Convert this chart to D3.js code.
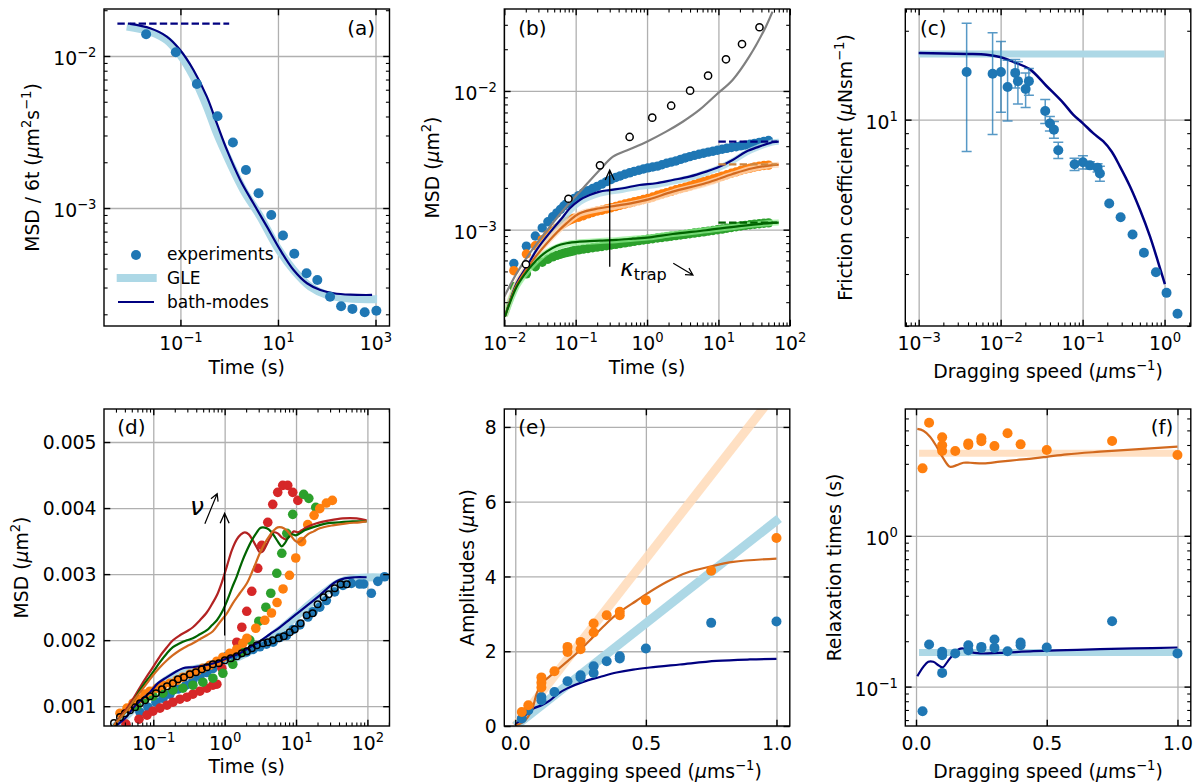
<!DOCTYPE html>
<html>
<head>
<meta charset="utf-8">
<script src="https://cdn.jsdelivr.net/npm/d3@7"></script>
<style>
  body { margin: 0; background: #fff; }
  svg text { font-family: "DejaVu Sans", sans-serif; fill: #000; }
</style>
</head>
<body>
<svg id="fig" width="1198" height="783"></svg>
<script>
// ---------- panel (a): MSD / 6t ----------
var aExpT = [0.0198, 0.0804, 0.2173, 0.5754, 1.191, 2.203, 4.0, 7.28, 12.68, 21.6, 38.6, 64.1, 117, 197, 336, 600, 1042];
var aExpV = [0.0139, 0.01057, 0.00654, 0.00401, 0.0027, 0.00178, 0.00125, 0.0009, 0.00066, 0.0005, 0.000372, 0.000336, 0.000261, 0.000226, 0.000217, 0.000206, 0.000211];
var aBathT = [0.00927, 0.024, 0.0525, 0.0986, 0.185, 0.348, 0.558, 0.897, 1.683, 3.155, 5.94, 11.1, 20.9, 39.4, 74, 139, 305, 851];
var aBathV = [0.01626, 0.0152, 0.0134, 0.01094, 0.00809, 0.0054, 0.0036, 0.00241, 0.00153, 0.00107, 0.000754, 0.00053, 0.000391, 0.00032, 0.000289, 0.000275, 0.000269, 0.000268];
var aGleT = [0.00794, 0.024, 0.0525, 0.0986, 0.185, 0.348, 0.558, 1.05, 1.968, 4.335, 9.53, 20.9, 46, 101, 261, 1079];
var aGleV = [0.0156, 0.01445, 0.01274, 0.01016, 0.00731, 0.00464, 0.0031, 0.00197, 0.00131, 0.000877, 0.000556, 0.000391, 0.000303, 0.000268, 0.000255, 0.000251];
var aPlateauT = [0.0051, 1.0];
var aPlateauV = [0.0163, 0.0163];

// ---------- panel (b): MSD for three trap stiffnesses ----------
var bT = [0.0136, 0.0204, 0.0272, 0.034, 0.0408, 0.0476, 0.0544, 0.0612, 0.068, 0.0748, 0.0816, 0.0884, 0.0952,
  0.11, 0.128, 0.149, 0.173, 0.2, 0.233, 0.27, 0.314, 0.365, 0.42, 0.49, 0.57, 0.66, 0.77, 0.89,
  1.03, 1.2, 1.4, 1.62, 1.88, 2.18, 2.54, 2.95, 3.42, 3.97, 4.6, 5.35, 6.2, 7.2, 8.4, 9.7,
  11.3, 13.1, 15.2, 17.7, 20.5, 23.8, 27.7, 32.1, 37.3, 43.3, 50.3];
var bBlue = [0.00057, 0.00076, 0.0009, 0.00103, 0.00114, 0.00124, 0.00132, 0.0014, 0.00148, 0.00154, 0.00159, 0.00164, 0.00168,
  0.00176, 0.00184, 0.00191, 0.00198, 0.00205, 0.00213, 0.00222, 0.0023, 0.00238, 0.00244, 0.00251, 0.00257, 0.00263, 0.00268, 0.00274,
  0.00279, 0.00283, 0.00287, 0.00294, 0.00301, 0.00307, 0.00313, 0.00321, 0.00329, 0.00336, 0.00343, 0.0035, 0.00356, 0.00362, 0.00368, 0.00374,
  0.0038, 0.00386, 0.00391, 0.00396, 0.00402, 0.00407, 0.00413, 0.00419, 0.00426, 0.00433, 0.00439];
var bOrange = [0.000506, 0.000668, 0.000765, 0.000848, 0.00092, 0.00098, 0.00103, 0.00107, 0.00111, 0.00114, 0.00117, 0.00119, 0.00121,
  0.00123, 0.00126, 0.0013, 0.00133, 0.00136, 0.00138, 0.00141, 0.00144, 0.00147, 0.0015, 0.00153, 0.00156, 0.00159, 0.00162, 0.00165,
  0.00168, 0.00172, 0.00177, 0.00181, 0.00185, 0.00189, 0.00194, 0.00198, 0.00202, 0.00207, 0.00212, 0.00217, 0.00222, 0.00227, 0.00232, 0.00237,
  0.00243, 0.00249, 0.00255, 0.00261, 0.00267, 0.00273, 0.00278, 0.00283, 0.00287, 0.0029, 0.00292];
var bGreen = [0.000388, 0.00048, 0.00054, 0.000582, 0.000612, 0.000636, 0.000652, 0.000665, 0.000676, 0.000685, 0.000692, 0.000699, 0.000705,
  0.000715, 0.000724, 0.000732, 0.00074, 0.000748, 0.000757, 0.000766, 0.000775, 0.000784, 0.000793, 0.000803, 0.000813, 0.000823, 0.000833, 0.000843,
  0.000852, 0.000861, 0.00087, 0.000879, 0.000888, 0.000897, 0.000906, 0.000915, 0.000925, 0.000935, 0.000945, 0.000955, 0.000965, 0.000976, 0.000987, 0.000998,
  0.00101, 0.001023, 0.001036, 0.001049, 0.001062, 0.001074, 0.001085, 0.001095, 0.001104, 0.001113, 0.00112];
var bNavyT = [0.0102, 0.0149, 0.0206, 0.0284, 0.0391, 0.051, 0.0667, 0.0828, 0.114, 0.157, 0.217, 0.299, 0.459, 0.785, 1.34, 2.29, 3.92, 6.71, 10.3, 15.8, 24.3, 37.2, 57.2, 70];
var bNavyV = [0.000236, 0.000411, 0.000541, 0.000714, 0.000891, 0.001052, 0.00124, 0.001426, 0.001637, 0.001778, 0.00188, 0.00193, 0.00199, 0.0021, 0.00216, 0.00228, 0.00241, 0.00262, 0.00284, 0.00318, 0.00365, 0.00397, 0.00427, 0.00432];
var bGleBlueT = [0.0102, 0.015, 0.021, 0.029, 0.04, 0.052, 0.068, 0.085, 0.115, 0.16, 0.22, 0.3, 0.46, 0.79, 1.34, 2.3, 3.9, 6.7, 10.3, 15.8, 24.3, 37, 57, 70];
var bGleBlueV = [0.00024, 0.0004, 0.00053, 0.0007, 0.00087, 0.00103, 0.0012, 0.00138, 0.00158, 0.00172, 0.00182, 0.00188, 0.00194, 0.00204, 0.0021, 0.00222, 0.00236, 0.00257, 0.00279, 0.00312, 0.00358, 0.00394, 0.00425, 0.0043];
var bChocT = [0.0102, 0.0149, 0.0254, 0.0434, 0.0744, 0.114, 0.217, 0.371, 0.634, 1.084, 2.29, 6.71, 15.8, 30.1, 57.2, 70];
var bChocV = [0.000236, 0.0004, 0.000605, 0.000843, 0.001111, 0.001313, 0.001426, 0.00149, 0.00156, 0.00166, 0.00188, 0.00217, 0.00252, 0.00277, 0.00292, 0.00294];
var bPeachT = [0.0102, 0.015, 0.025, 0.043, 0.074, 0.114, 0.22, 0.37, 0.63, 1.08, 2.3, 6.7, 15.8, 30, 57, 70];
var bPeachV = [0.00024, 0.00041, 0.00061, 0.00085, 0.00111, 0.0013, 0.00141, 0.00147, 0.00154, 0.00164, 0.00186, 0.00215, 0.0025, 0.00276, 0.00292, 0.00294];
var bDkGreenT = [0.0102, 0.0149, 0.0206, 0.0284, 0.0391, 0.054, 0.0744, 0.114, 0.217, 0.371, 0.634, 1.084, 2.29, 6.71, 19.6, 57.2, 70];
var bDkGreenV = [0.000236, 0.000388, 0.000498, 0.000605, 0.000694, 0.000763, 0.000798, 0.000819, 0.000833, 0.000843, 0.000861, 0.000881, 0.00093, 0.00099, 0.00106, 0.00112, 0.001125];
var bLtGreenT = [0.0102, 0.015, 0.021, 0.029, 0.04, 0.055, 0.075, 0.115, 0.22, 0.37, 0.63, 1.08, 2.3, 6.7, 19.6, 57, 70];
var bLtGreenV = [0.00024, 0.00039, 0.0005, 0.0006, 0.00069, 0.00075, 0.00079, 0.00081, 0.00083, 0.00084, 0.00086, 0.00088, 0.00093, 0.00099, 0.00106, 0.00112, 0.001125];
var bGrayT = [0.01, 0.0149, 0.0254, 0.0434, 0.0743, 0.1268, 0.217, 0.333, 0.57, 0.993, 1.85, 3.16, 5.41, 9.25, 15.8, 27, 46.2, 57.2];
var bGrayV = [0.000329, 0.000485, 0.000734, 0.00105, 0.00147, 0.00199, 0.00269, 0.00336, 0.0038, 0.00431, 0.00509, 0.006, 0.0073, 0.00936, 0.012, 0.01767, 0.0291, 0.0373];
var bCircT = [0.0201, 0.0792, 0.219, 0.57, 1.183, 2.178, 4.009, 7.16, 12.76, 21.4, 37.6];
var bCircV = [0.000563, 0.00167, 0.00291, 0.00466, 0.00642, 0.00783, 0.01005, 0.0129, 0.01692, 0.0218, 0.0288];
var bPlateauT = [10, 66];
var bPlateauNavy = [0.00431, 0.00431];
var bPlateauOrange = [0.00296, 0.00296];
var bPlateauGreen = [0.001123, 0.001123];

// ---------- panel (c): friction coefficient ----------
var cSpeed = [0.00385, 0.00798, 0.01009, 0.01216, 0.01507, 0.01626, 0.02018, 0.02213, 0.035, 0.0399, 0.0447, 0.0505, 0.0798, 0.1009, 0.1227, 0.1524, 0.1626, 0.2113, 0.291, 0.407, 0.56, 0.785, 1.057, 1.439];
var cFric = [14.5, 14.3, 14.5, 12.9, 14.4, 13.5, 12.7, 13.5, 10.7, 9.7, 9.25, 7.88, 7.06, 7.17, 7.0, 6.87, 6.57, 5.2, 4.67, 4.08, 3.54, 3.04, 2.59, 2.2];
var cErr = [6.7, 5.4, 3.9, 3.0, 1.6, 2.2, 1.7, 1.4, 1.0, 0.55, 0.6, 0.5, 0.34, 0.37, 0.2, 0.22, 0.38, 0, 0, 0, 0, 0, 0, 0];
var cBathSpeed = [0.001, 0.00385, 0.00675, 0.0098, 0.01426, 0.0228, 0.0363, 0.058, 0.0767, 0.1016, 0.1346, 0.178, 0.226, 0.285, 0.378, 0.5, 0.662, 0.838, 1.01];
var cBathFric = [16.8, 16.7, 16.6, 16.3, 15.7, 14.8, 13.0, 11.4, 10.4, 9.7, 9.0, 8.45, 7.8, 6.95, 5.95, 4.96, 4.03, 3.28, 2.77];
var cGleSpeed = [0.001, 1.0];
var cGleFric = [16.7, 16.7];

// ---------- panel (d): MSD while dragging ----------
var dOrangeT = [0.0342, 0.0429, 0.052, 0.0611, 0.0765, 0.0899, 0.1127, 0.1367, 0.1714, 0.2145, 0.26, 0.326, 0.409, 0.495, 0.621, 0.778, 0.944, 1.18, 1.48, 1.8, 2.05, 2.73, 3.65, 4.53, 5.42, 6.58, 8.09, 9.91, 12.0, 14.6, 17.9, 21.5, 26.6, 32.3];
var dOrangeV = [0.000894, 0.00097, 0.001045, 0.001106, 0.001182, 0.001227, 0.001272, 0.001318, 0.001348, 0.001393, 0.001439, 0.001484, 0.00153, 0.001575, 0.00162, 0.001681, 0.001741, 0.001802, 0.001862, 0.001953, 0.002029, 0.00218, 0.002301, 0.002411, 0.002569, 0.002775, 0.002982, 0.003244, 0.003492, 0.003749, 0.00389, 0.003991, 0.004076, 0.004116];
var dGreenT = [0.0592, 0.0765, 0.0991, 0.1367, 0.1886, 0.26, 0.359, 0.495, 0.684, 0.944, 1.3, 1.74, 2.25, 3.01, 3.78, 4.43, 5.38, 6.32, 7.43, 8.99, 12.8, 15.1, 18.9];
var dGreenV = [0.001, 0.001106, 0.001151, 0.001197, 0.001242, 0.001272, 0.001318, 0.001363, 0.001424, 0.001499, 0.001635, 0.001817, 0.002, 0.002286, 0.002498, 0.00271, 0.003012, 0.003315, 0.003617, 0.003905, 0.004207, 0.004147, 0.004011];
var dRedT = [0.0415, 0.0631, 0.0817, 0.0991, 0.124, 0.1556, 0.1886, 0.236, 0.296, 0.359, 0.45, 0.564, 0.684, 0.778, 0.914, 1.48, 1.74, 2.04, 2.4, 2.91, 3.31, 4.02, 4.72, 5.54, 6.51, 7.65, 8.99, 10.6];
var dRedV = [0.000728, 0.000803, 0.000864, 0.000924, 0.00097, 0.001015, 0.00106, 0.001106, 0.001136, 0.001182, 0.001227, 0.001272, 0.001318, 0.001333, 0.001575, 0.001968, 0.002195, 0.002437, 0.00274, 0.003088, 0.003436, 0.003784, 0.004056, 0.004238, 0.004344, 0.004344, 0.004238, 0.004116];
var dBlueT = [0.0652, 0.0843, 0.109, 0.137, 0.171, 0.222, 0.287, 0.359, 0.45, 0.564, 0.684, 0.857, 1.06, 1.32, 1.63, 2.02, 2.5, 3.11, 3.85, 4.77, 5.91, 7.34, 9.08, 11.3, 14.7, 17.3, 21.5, 26.6, 34.8, 45.4, 59.6, 77.8, 88.5, 113.5, 140, 174];
var dBlueV = [0.000909, 0.000985, 0.00106, 0.00112, 0.00118, 0.00126, 0.00132, 0.00139, 0.00145, 0.00151, 0.00157, 0.00167, 0.00175, 0.00177, 0.0018, 0.00182, 0.00186, 0.0019, 0.00194, 0.00197, 0.00204, 0.00207, 0.00216, 0.00223, 0.00235, 0.00243, 0.0025, 0.0026, 0.00273, 0.00283, 0.00286, 0.00285, 0.00285, 0.00271, 0.00289, 0.00296];
var dCircT = [0.0282, 0.0342, 0.0402, 0.0472, 0.0555, 0.0652, 0.0766, 0.0899, 0.109, 0.1324, 0.1556, 0.1886, 0.2215, 0.2686, 0.326, 0.395, 0.479, 0.564, 0.684, 0.83, 1.007, 1.22, 1.48, 1.74, 2.05, 2.4, 2.82, 3.43, 4.03, 4.72, 5.73, 6.73, 8.17, 9.59, 11.6, 14.1, 17.1, 20.1, 24.4, 28.7, 34.8, 42.2, 51.3];
var dCircV = [0.000743, 0.000834, 0.000894, 0.00094, 0.000985, 0.001045, 0.001091, 0.001151, 0.001197, 0.001257, 0.001303, 0.001348, 0.001408, 0.001439, 0.001484, 0.001514, 0.00156, 0.00159, 0.001635, 0.00165, 0.001696, 0.001726, 0.001756, 0.001802, 0.001832, 0.001877, 0.001923, 0.001953, 0.001968, 0.001998, 0.002029, 0.002059, 0.00212, 0.002165, 0.002256, 0.002377, 0.002407, 0.002543, 0.002649, 0.002694, 0.002785, 0.002846, 0.002846];
var dNavyT = [0.0282, 0.0321, 0.0429, 0.052, 0.0695, 0.0899, 0.1164, 0.1556, 0.201, 0.26, 0.3475, 0.45, 0.621, 0.857, 1.18, 1.63, 2.25, 3.11, 4.29, 5.92, 8.17, 11.3, 15.6, 21.5, 29.6, 37.1, 48.0, 66.2, 97.5];
var dNavyV = [0.000682, 0.000728, 0.000849, 0.00097, 0.001106, 0.001212, 0.001348, 0.001439, 0.001514, 0.001575, 0.00159, 0.001605, 0.001635, 0.001681, 0.001741, 0.001802, 0.001893, 0.001983, 0.002089, 0.002195, 0.002316, 0.002437, 0.002558, 0.002679, 0.002815, 0.002891, 0.002936, 0.002952, 0.002952];
var dGleT = [0.028, 0.04, 0.06, 0.09, 0.13, 0.2, 0.3, 0.45, 0.7, 1.0, 1.6, 2.5, 4, 6, 10, 15, 25, 40, 60, 100, 150];
var dGleV = [0.00068, 0.00083, 0.00102, 0.00119, 0.00134, 0.00147, 0.00154, 0.00158, 0.00162, 0.00167, 0.00175, 0.00186, 0.00201, 0.00216, 0.00236, 0.00253, 0.00272, 0.00287, 0.00293, 0.00295, 0.00295];
var dRedLineT = [0.0282, 0.0342, 0.0429, 0.0537, 0.0652, 0.0817, 0.0991, 0.124, 0.1556, 0.1886, 0.236, 0.296, 0.359, 0.45, 0.564, 0.662, 0.778, 0.914, 1.074, 1.26, 1.48, 1.69, 1.92, 2.18, 2.48, 2.82, 3.11, 3.42, 3.77, 4.29, 4.88, 5.54, 6.31, 7.18, 8.17, 9.29, 10.6, 12.0, 14.1, 19.5, 29.6, 45.1, 70.6, 97.5];
var dRedLineV = [0.000713, 0.000834, 0.00097, 0.001136, 0.001287, 0.001454, 0.00159, 0.001756, 0.001893, 0.001998, 0.002074, 0.002135, 0.002195, 0.002301, 0.002422, 0.002543, 0.002679, 0.002876, 0.003118, 0.00336, 0.003526, 0.003602, 0.003632, 0.003602, 0.003511, 0.003405, 0.00333, 0.003345, 0.003421, 0.003542, 0.003632, 0.003617, 0.003557, 0.003526, 0.003572, 0.003647, 0.003632, 0.003663, 0.003708, 0.003769, 0.003814, 0.003844, 0.003844, 0.003814];
var dGreenLineT = [0.0282, 0.0342, 0.0429, 0.0537, 0.0652, 0.0817, 0.0991, 0.124, 0.1556, 0.1886, 0.236, 0.296, 0.359, 0.45, 0.564, 0.662, 0.778, 0.914, 1.074, 1.26, 1.48, 1.74, 2.05, 2.4, 2.82, 3.11, 3.42, 3.89, 4.43, 4.88, 5.54, 6.31, 6.95, 7.65, 8.71, 9.91, 11.3, 13.2, 17.1, 26.9, 40.8, 62.1, 97.5];
var dGreenLineV = [0.000713, 0.000818, 0.00094, 0.001091, 0.001242, 0.001393, 0.001514, 0.001666, 0.001802, 0.001893, 0.001953, 0.001998, 0.002029, 0.002089, 0.00215, 0.002225, 0.002301, 0.002422, 0.002588, 0.002785, 0.002967, 0.003178, 0.00336, 0.003511, 0.003632, 0.003693, 0.003708, 0.003693, 0.003647, 0.003587, 0.003496, 0.003421, 0.003466, 0.003542, 0.003602, 0.003587, 0.003617, 0.003663, 0.003708, 0.003769, 0.003784, 0.003799, 0.003799];
var dOrangeLineT = [0.0282, 0.0342, 0.0429, 0.0537, 0.0652, 0.0817, 0.0991, 0.124, 0.1556, 0.1886, 0.236, 0.296, 0.359, 0.45, 0.564, 0.684, 0.857, 1.074, 1.3, 1.63, 2.05, 2.48, 3.11, 3.65, 4.29, 4.88, 5.54, 6.31, 7.41, 8.43, 9.59, 10.6, 11.6, 12.8, 14.6, 17.7, 21.5, 32.6, 51.3, 77.8, 97.5];
var dOrangeLineV = [0.000713, 0.000818, 0.00094, 0.001091, 0.001212, 0.001348, 0.001469, 0.00159, 0.001696, 0.001772, 0.001847, 0.001908, 0.001953, 0.002014, 0.002074, 0.002135, 0.002271, 0.002407, 0.002558, 0.00271, 0.002861, 0.003058, 0.003315, 0.003466, 0.003587, 0.003663, 0.003708, 0.003708, 0.003663, 0.003587, 0.003511, 0.003481, 0.003496, 0.003542, 0.003602, 0.003647, 0.003693, 0.003738, 0.003769, 0.003784, 0.003799];

// ---------- panel (e): amplitudes ----------
var eOrangeSpeed = [0.025, 0.05, 0.1, 0.1, 0.1, 0.15, 0.2, 0.2, 0.25, 0.25, 0.3, 0.3, 0.35, 0.4, 0.4, 0.5, 0.75, 1.0];
var eOrangeAmp = [0.375, 0.555, 1.3, 1.16, 1.03, 1.465, 2.116, 1.98, 2.25, 2.055, 2.743, 2.5, 2.965, 3.054, 2.965, 3.367, 4.152, 5.028];
var eBlueSpeed = [0.025, 0.05, 0.1, 0.1, 0.15, 0.2, 0.25, 0.25, 0.3, 0.3, 0.35, 0.4, 0.4, 0.5, 0.75, 1.0];
var eBlueAmp = [0.2, 0.42, 0.777, 0.688, 0.91, 1.197, 1.358, 1.296, 1.6, 1.42, 1.733, 1.867, 1.805, 2.073, 2.759, 2.797];
var eNavySpeed = [0, 0.031, 0.069, 0.101, 0.133, 0.1645, 0.197, 0.26, 0.324, 0.388, 0.451, 0.515, 0.63, 0.77, 0.898, 1.0];
var eNavyAmp = [0.02, 0.24, 0.466, 0.555, 0.688, 0.868, 1.0, 1.18, 1.31, 1.43, 1.51, 1.565, 1.645, 1.74, 1.78, 1.795];
var eChocSpeed = [0, 0.031, 0.063, 0.082, 0.101, 0.145, 0.197, 0.2475, 0.298, 0.35, 0.4, 0.464, 0.5, 0.579, 0.656, 0.751, 0.834, 1.0];
var eChocAmp = [0.02, 0.107, 0.42, 0.868, 1.136, 1.404, 1.714, 2.028, 2.384, 2.75, 3.05, 3.35, 3.52, 3.85, 4.1, 4.27, 4.39, 4.48];
var eGleOrangeSpeed = [0, 1.0];
var eGleOrangeAmp = [0, 8.95];
var eGleBlueSpeed = [0, 1.01];
var eGleBlueAmp = [0, 5.55];

// ---------- panel (f): relaxation times ----------
var fOrangeSpeed = [0.025, 0.05, 0.1, 0.1, 0.1, 0.15, 0.2, 0.2, 0.25, 0.25, 0.3, 0.35, 0.4, 0.5, 0.75, 1.0];
var fOrangeTau = [2.8, 5.62, 4.5, 3.98, 3.65, 3.65, 4.1, 4.0, 4.43, 4.23, 3.94, 4.78, 4.04, 3.71, 4.25, 3.43];
var fBlueSpeed = [0.025, 0.05, 0.1, 0.1, 0.1, 0.15, 0.2, 0.2, 0.25, 0.25, 0.3, 0.3, 0.35, 0.4, 0.4, 0.5, 0.75, 1.0];
var fBlueTau = [0.0687, 0.19, 0.17, 0.1616, 0.1233, 0.166, 0.188, 0.1744, 0.1834, 0.1806, 0.2054, 0.1806, 0.1717, 0.196, 0.188, 0.1817, 0.2716, 0.166];
var fChocSpeed = [0.005, 0.028, 0.0536, 0.079, 0.1045, 0.13, 0.156, 0.181, 0.207, 0.2575, 0.321, 0.385, 0.449, 0.5, 0.5765, 0.704, 1.0];
var fChocTau = [5.11, 4.97, 4.54, 3.9, 3.26, 2.87, 2.94, 3.05, 3.05, 3.02, 3.1, 3.18, 3.26, 3.34, 3.47, 3.61, 3.9];
var fNavySpeed = [0.005, 0.028, 0.047, 0.066, 0.0857, 0.102, 0.12, 0.14, 0.162, 0.181, 0.207, 0.245, 0.321, 0.449, 0.5765, 0.704, 0.831, 1.0];
var fNavyTau = [0.1172, 0.1352, 0.146, 0.146, 0.1387, 0.134, 0.146, 0.1616, 0.1763, 0.179, 0.17, 0.166, 0.1674, 0.1717, 0.1744, 0.177, 0.179, 0.1817];
var fGleSpeed = [0.0115, 1.01];
var fGleOrangeTau = [3.52, 3.52];
var fGleBlueTau = [0.1684, 0.1684];

// ---------- styling ----------
var BLUE = '#1f77b4', ORANGE = '#ff7f0e', GREEN = '#2ca02c', RED = '#d62728';
var NAVY = '#000080', CHOC = '#d2691e', DKGREEN = '#006400', BRICK = '#b22222';
var LTBLUE = '#add8e6', PEACH = '#ffdab9', LTGREEN = '#90ee90', PERU = '#cd853f', GRAY = '#808080';
var PW = 285.5, PH = 317, FS = 18.8;

var svg = d3.select('#fig');
var curve = d3.curveCatmullRom.alpha(0.5);

function supStr(e) { return e < 0 ? '\u2212' + (-e) : '' + e; }

// append tspans: plain strings, {t, i}, {t, sup}, {t, sub}
function rich(t, parts, size) {
  var off = 0;
  parts.forEach(function (p) {
    if (typeof p === 'string') p = {t: p};
    var target = p.sup ? -0.42 * size : (p.sub ? 0.16 * size : 0);
    var ts = t.append('tspan').text(p.t);
    if (target - off !== 0) ts.attr('dy', target - off);
    if (p.sup || p.sub) ts.attr('font-size', size * 0.7);
    if (p.i) ts.attr('font-style', 'italic');
    off = target;
  });
  return t;
}

function logFmt(d) { return ['10', {t: supStr(Math.round(Math.log10(d))), sup: true}]; }
function numFmt(f) { var g = d3.format(f); return function (d) { return [g(d)]; }; }

function logMinor(lo, hi) {
  var out = [];
  for (var e = Math.floor(Math.log10(lo)); e <= Math.ceil(Math.log10(hi)); e++) {
    for (var k = 2; k <= 9; k++) {
      var v = k * Math.pow(10, e);
      if (v >= lo && v <= hi) out.push(v);
    }
  }
  return out;
}

function makePanel(id, left, top, x, y) {
  x.range([0, PW]);
  y.range([PH, 0]);
  var g = svg.append('g').attr('transform', 'translate(' + left + ',' + top + ')');
  g.append('clipPath').attr('id', 'clip-' + id)
    .append('rect').attr('width', PW).attr('height', PH);
  var grid = g.append('g');
  var plot = g.append('g').attr('clip-path', 'url(#clip-' + id + ')');
  return {g: g, grid: grid, plot: plot, x: x, y: y};
}

function cleanGrid(s) {
  s.select('.domain').remove();
  s.selectAll('text').remove();
  s.selectAll('line').attr('stroke', '#b0b0b0').attr('stroke-width', 1.3);
}

function side(p, orient, major, minor, fmt, dy) {
  var horiz = orient === 'bottom' || orient === 'top';
  var sc = horiz ? p.x : p.y;
  var mk = {bottom: d3.axisBottom, top: d3.axisTop, left: d3.axisLeft, right: d3.axisRight}[orient];
  var g = p.g.append('g');
  if (orient === 'bottom') g.attr('transform', 'translate(0,' + PH + ')');
  if (orient === 'right') g.attr('transform', 'translate(' + PW + ',0)');
  if (minor && minor.length) {
    g.append('g').call(mk(sc).tickValues(minor).tickSize(-3.6).tickFormat(''))
      .call(function (s) {
        s.select('.domain').remove();
        s.selectAll('line').attr('stroke', '#000').attr('stroke-width', 1.1);
      });
  }
  var ax = mk(sc).tickValues(major).tickSize(-6.3).tickPadding(horiz ? 10.2 : 7.5);
  if (!fmt) ax.tickFormat('');
  var m = g.append('g').call(ax);
  m.select('.domain').remove();
  m.selectAll('line').attr('stroke', '#000').attr('stroke-width', 1.4);
  m.attr('font-size', FS).attr('font-family', '"DejaVu Sans", sans-serif');
  if (fmt) {
    m.selectAll('.tick text').each(function (d) {
      var t = d3.select(this).text(null).attr('fill', '#000');
      rich(t, fmt(d), FS);
      if (!horiz) t.attr('dy', dy || '0.35em');
    });
  }
}

function axes(p, o) {
  p.grid.append('g').attr('transform', 'translate(0,' + PH + ')')
    .call(d3.axisBottom(p.x).tickValues(o.xMajor).tickSize(-PH)).call(cleanGrid);
  p.grid.append('g')
    .call(d3.axisLeft(p.y).tickValues(o.yMajor).tickSize(-PW)).call(cleanGrid);
  p.g.append('rect').attr('width', PW).attr('height', PH)
    .attr('fill', 'none').attr('stroke', '#000').attr('stroke-width', 1.4);
  side(p, 'bottom', o.xMajor, o.xMinor, o.xFmt);
  side(p, 'top', o.xMajor, o.xMinor);
  side(p, 'left', o.yMajor, o.yMinor, o.yFmt, o.yDy);
  side(p, 'right', o.yMajor, o.yMinor);
}

function labels(p, xParts, xBase, yParts, yPos, tag, tagX, tagY, tagEnd) {
  rich(p.g.append('text').attr('x', PW / 2).attr('y', PH + xBase)
    .attr('text-anchor', 'middle').attr('font-size', FS), xParts, FS);
  rich(p.g.append('text').attr('transform', 'translate(' + yPos + ',' + (PH / 2) + ') rotate(-90)')
    .attr('text-anchor', 'middle').attr('font-size', FS), yParts, FS);
  p.g.append('text').attr('x', tagX).attr('y', tagY).attr('font-size', 20)
    .attr('text-anchor', tagEnd ? 'end' : 'start').text(tag);
}

function line(p, xs, ys, color, width) {
  return p.plot.append('path')
    .datum(d3.zip(xs, ys))
    .attr('fill', 'none').attr('stroke', color).attr('stroke-width', width)
    .attr('stroke-linejoin', 'round')
    .attr('d', d3.line()
      .x(function (d) { return p.x(d[0]); })
      .y(function (d) { return p.y(d[1]); })
      .curve(curve));
}

function dots(p, xs, ys, color, r, open) {
  var c = p.plot.append('g').selectAll('circle').data(d3.zip(xs, ys)).join('circle')
    .attr('cx', function (d) { return p.x(d[0]); })
    .attr('cy', function (d) { return p.y(d[1]); })
    .attr('r', r);
  if (open) c.attr('fill', open).attr('stroke', color).attr('stroke-width', 1.5);
  else c.attr('fill', color);
  return c;
}

function vArrow(p, xv, y0, y1) {
  var X = p.x(xv), A = p.y(y0), B = p.y(y1);
  p.g.append('path')
    .attr('d', 'M' + X + ',' + A + 'V' + B + 'M' + (X - 4.5) + ',' + (B + 10) + 'L' + X + ',' + B + 'L' + (X + 4.5) + ',' + (B + 10))
    .attr('fill', 'none').attr('stroke', '#000').attr('stroke-width', 1.3);
}

function dArrow(p, x0, y0, x1, y1) {
  var X0 = p.x(x0), Y0 = p.y(y0), X1 = p.x(x1), Y1 = p.y(y1);
  var a = Math.atan2(Y1 - Y0, X1 - X0), L = 8, s = 0.5;
  var h1 = [X1 - L * Math.cos(a - s), Y1 - L * Math.sin(a - s)];
  var h2 = [X1 - L * Math.cos(a + s), Y1 - L * Math.sin(a + s)];
  p.g.append('path')
    .attr('d', 'M' + X0 + ',' + Y0 + 'L' + X1 + ',' + Y1 + 'M' + h1 + 'L' + X1 + ',' + Y1 + 'L' + h2)
    .attr('fill', 'none').attr('stroke', '#000').attr('stroke-width', 1.2);
}

var MU = {t: '\u03bc', i: true};
var TIME = ['Time (s)'];
var SPEED = ['Dragging speed (', MU, 'ms', {t: '\u22121', sup: true}, ')'];
var MSD = ['MSD (', MU, 'm', {t: '2', sup: true}, ')'];

// ---------- (a) ----------
var pa = makePanel('a', 104, 9, d3.scaleLog().domain([0.00271, 1936]), d3.scaleLog().domain([0.0001675, 0.02037]));
axes(pa, {xMajor: [0.1, 10, 1000], xMinor: [], xFmt: logFmt,
  yMajor: [0.001, 0.01], yMinor: logMinor(0.0001675, 0.02037), yFmt: logFmt, yDy: '0.45em'});
line(pa, aGleT, aGleV, LTBLUE, 8);
line(pa, aBathT, aBathV, NAVY, 2.2);
line(pa, aPlateauT, aPlateauV, NAVY, 2.2).attr('stroke-dasharray', '7.4,3.2');
dots(pa, aExpT, aExpV, BLUE, 5);
labels(pa, TIME, 48.3, ['MSD / 6t (', MU, 'm', {t: '2', sup: true}, 's', {t: '\u22121', sup: true}, ')'], -64.7, '(a)', 271, 26, true);
// legend
var lg = pa.g.append('g');
lg.append('circle').attr('cx', 32).attr('cy', 246).attr('r', 5).attr('fill', BLUE);
lg.append('line').attr('x1', 12.7).attr('x2', 52.7).attr('y1', 269).attr('y2', 269).attr('stroke', LTBLUE).attr('stroke-width', 8);
lg.append('line').attr('x1', 14).attr('x2', 50).attr('y1', 293).attr('y2', 293).attr('stroke', NAVY).attr('stroke-width', 2.2);
[['experiments', 251], ['GLE', 275], ['bath-modes', 299]].forEach(function (r) {
  lg.append('text').attr('x', 63).attr('y', r[1]).attr('font-size', 17).text(r[0]);
});

// ---------- (b) ----------
var pb = makePanel('b', 504.3, 9, d3.scaleLog().domain([0.01, 100]), d3.scaleLog().domain([0.000202, 0.039]));
axes(pb, {xMajor: [0.01, 0.1, 1, 10, 100], xMinor: logMinor(0.01, 100), xFmt: logFmt,
  yMajor: [0.001, 0.01], yMinor: logMinor(0.000202, 0.039), yFmt: logFmt, yDy: '0.45em'});
dots(pb, bT, bBlue, BLUE, 4.7);
dots(pb, bT, bOrange, ORANGE, 4.7);
dots(pb, bT, bGreen, GREEN, 4.7);
line(pb, bGleBlueT, bGleBlueV, LTBLUE, 6).attr('opacity', 0.8);
line(pb, bPeachT, bPeachV, PEACH, 6).attr('opacity', 0.8);
line(pb, bLtGreenT, bLtGreenV, LTGREEN, 6).attr('opacity', 0.7);
line(pb, bNavyT, bNavyV, NAVY, 2.2);
line(pb, bChocT, bChocV, CHOC, 2.2);
line(pb, bDkGreenT, bDkGreenV, DKGREEN, 2.2);
line(pb, bPlateauT, bPlateauNavy, NAVY, 2.2).attr('stroke-dasharray', '7.4,3.2');
line(pb, bPlateauT, bPlateauOrange, PERU, 2.2).attr('stroke-dasharray', '7.4,3.2');
line(pb, bPlateauT, bPlateauGreen, DKGREEN, 2.2).attr('stroke-dasharray', '7.4,3.2');
line(pb, bGrayT, bGrayV, GRAY, 2.2);
dots(pb, bCircT, bCircV, '#000', 3.6, '#fff');
labels(pb, TIME, 48, MSD, -65, '(b)', 14, 26);
vArrow(pb, 0.30, 0.00054, 0.00269);
rich(pb.g.append('text').attr('x', pb.x(0.42)).attr('y', pb.y(0.000463)).attr('font-size', 23),
  [{t: '\u03ba', i: true}, {t: 'trap', sub: true}], 23);
dArrow(pb, 2.33, 0.000573, 4.4, 0.000471);

// ---------- (c) ----------
var pc = makePanel('c', 905.3, 9, d3.scaleLog().domain([0.000687, 2.09]), d3.scaleLog().domain([2.0, 23.7]));
axes(pc, {xMajor: [0.001, 0.01, 0.1, 1], xMinor: logMinor(0.000687, 2.09), xFmt: logFmt,
  yMajor: [10], yMinor: logMinor(2.0, 23.7), yFmt: logFmt, yDy: '0.45em'});
line(pc, cGleSpeed, cGleFric, LTBLUE, 7);
line(pc, cBathSpeed, cBathFric, NAVY, 2.5);
var eb = pc.plot.append('g').attr('stroke', BLUE).attr('stroke-width', 1.5).attr('opacity', 0.75);
d3.range(cSpeed.length).filter(function (i) { return cErr[i] > 0; }).forEach(function (i) {
  var X = pc.x(cSpeed[i]), lo = pc.y(cFric[i] - cErr[i]), hi = pc.y(cFric[i] + cErr[i]);
  eb.append('path').attr('fill', 'none')
    .attr('d', 'M' + X + ',' + lo + 'V' + hi + 'M' + (X - 5) + ',' + lo + 'H' + (X + 5) + 'M' + (X - 5) + ',' + hi + 'H' + (X + 5));
});
dots(pc, cSpeed, cFric, BLUE, 5);
labels(pc, SPEED, 52, ['Friction coefficient (', MU, 'Nsm', {t: '\u22121', sup: true}, ')'], -53.6, '(c)', 14.7, 26);

// ---------- (d) ----------
var pd = makePanel('d', 104, 409, d3.scaleLog().domain([0.0204, 204]), d3.scaleLinear().domain([0.0007, 0.0055]));
axes(pd, {xMajor: [0.1, 1, 10, 100], xMinor: logMinor(0.0204, 204), xFmt: logFmt,
  yMajor: [0.001, 0.002, 0.003, 0.004, 0.005], yMinor: [], yFmt: numFmt('.3f'), yDy: '0.35em'});
line(pd, dGleT, dGleV, LTBLUE, 8);
dots(pd, dBlueT, dBlueV, BLUE, 4.8);
dots(pd, dRedT, dRedV, RED, 4.8);
dots(pd, dGreenT, dGreenV, GREEN, 4.8);
dots(pd, dOrangeT, dOrangeV, ORANGE, 4.8);
line(pd, dNavyT, dNavyV, NAVY, 2.2);
dots(pd, dCircT, dCircV, '#000', 3.3, 'none');
line(pd, dRedLineT, dRedLineV, BRICK, 2.2);
line(pd, dGreenLineT, dGreenLineV, DKGREEN, 2.2);
line(pd, dOrangeLineT, dOrangeLineV, CHOC, 2.2);
labels(pd, TIME, 47.3, MSD, -75.7, '(d)', 13.3, 25.4);
vArrow(pd, 1.0, 0.00207, 0.00392);
pd.g.append('text').attr('x', pd.x(0.326)).attr('y', pd.y(0.0039))
  .attr('font-size', 25).attr('font-style', 'italic').text('\u03bd');
dArrow(pd, 0.528, 0.003764, 0.786, 0.004218);

// ---------- (e) ----------
var pe = makePanel('e', 504.3, 409, d3.scaleLinear().domain([-0.042, 1.051]), d3.scaleLinear().domain([0, 8.48]));
axes(pe, {xMajor: [0, 0.5, 1], xMinor: [], xFmt: numFmt('.1f'),
  yMajor: [0, 2, 4, 6, 8], yMinor: [], yFmt: numFmt('d'), yDy: '0.35em'});
line(pe, eGleOrangeSpeed, eGleOrangeAmp, PEACH, 9).attr('opacity', 0.85);
line(pe, eGleBlueSpeed, eGleBlueAmp, LTBLUE, 9);
line(pe, eNavySpeed, eNavyAmp, NAVY, 2.2);
line(pe, eChocSpeed, eChocAmp, CHOC, 2.2);
dots(pe, eBlueSpeed, eBlueAmp, BLUE, 5);
dots(pe, eOrangeSpeed, eOrangeAmp, ORANGE, 5);
labels(pe, SPEED, 52.3, ['Amplitudes (', MU, 'm)'], -30.3, '(e)', 14, 25.4);

// ---------- (f) ----------
var pf = makePanel('f', 905.3, 409, d3.scaleLinear().domain([-0.041, 1.051]), d3.scaleLog().domain([0.0548, 6.93]));
axes(pf, {xMajor: [0, 0.5, 1], xMinor: [], xFmt: numFmt('.1f'),
  yMajor: [0.1, 1], yMinor: logMinor(0.0548, 6.93), yFmt: logFmt, yDy: '0.45em'});
line(pf, fGleSpeed, fGleOrangeTau, PEACH, 7).attr('opacity', 0.85);
line(pf, fGleSpeed, fGleBlueTau, LTBLUE, 7);
line(pf, fChocSpeed, fChocTau, CHOC, 2.2);
line(pf, fNavySpeed, fNavyTau, NAVY, 2.2);
dots(pf, fOrangeSpeed, fOrangeTau, ORANGE, 5);
dots(pf, fBlueSpeed, fBlueTau, BLUE, 5);
labels(pf, SPEED, 52.3, ['Relaxation times (s)'], -64.6, '(f)', 268, 25.4, true);
</script>
</body>
</html>
